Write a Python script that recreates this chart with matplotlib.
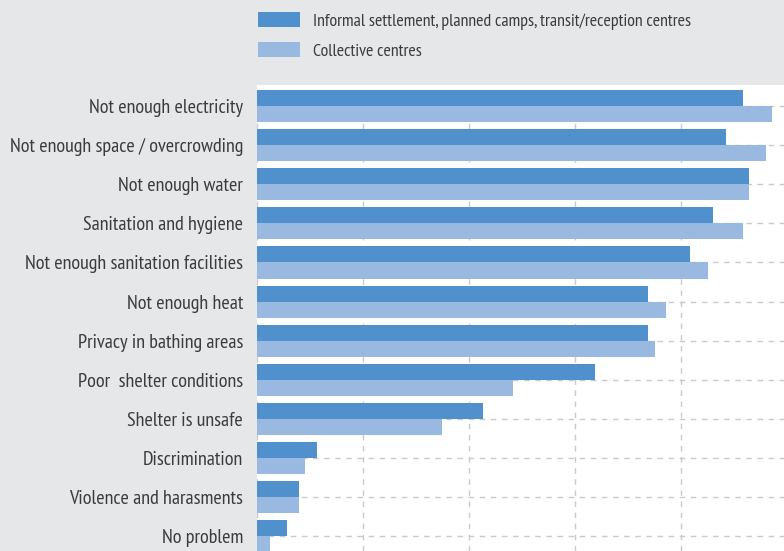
import matplotlib
matplotlib.use('Agg')
import matplotlib.pyplot as plt
import numpy as np

categories = ['Not enough electricity', 'Not enough space / overcrowding', 'Not enough water',
              'Sanitation and hygiene', 'Not enough sanitation facilities', 'Not enough heat',
              'Privacy in bathing areas', 'Poor  shelter conditions', 'Shelter is unsafe',
              'Discrimination', 'Violence and harasments', 'No problem']
informal = [45.8, 44.2, 46.4, 43.0, 40.8, 36.9, 36.9, 31.9, 21.3, 5.7, 4.0, 2.8]
collective = [48.6, 48.0, 46.4, 45.8, 42.5, 38.6, 37.5, 24.1, 17.4, 4.5, 4.0, 1.2]
series_names = ['Informal settlement, planned camps, transit/reception centres', 'Collective centres']

# condensed face close to the original; falls back if missing
plt.rcParams['font.family'] = ['PT Sans Narrow', 'Liberation Sans Narrow', 'DejaVu Sans']

dark = '#4f90cd'
light = '#9ab9e0'
bg = '#e6e7e8'
text_c = '#3c3c3c'

fig = plt.figure(figsize=(7.84, 5.51), dpi=100, facecolor=bg)
ax = fig.add_axes([257/784, 0, 1 - 257/784, 1 - 85/551])
ax.set_facecolor('white')

y = np.arange(len(categories))
h = 0.41
ax.barh(y - h/2, informal, height=h, color=dark, label=series_names[0], zorder=2)
ax.barh(y + h/2, collective, height=h, color=light, label=series_names[1], zorder=2)

ax.set_xlim(0, 49.7)
ax.set_ylim(len(categories) - 1 + 0.38, -0.54)
ax.set_xticks([0, 10, 20, 30, 40])
ax.set_yticks(y)
ax.set_yticklabels(categories, fontsize=14.5, color=text_c)
ax.tick_params(axis='y', length=0, pad=10)
ax.tick_params(axis='x', length=0, labelbottom=False)
ax.grid(True, color='#cacaca', linestyle=(0, (4, 4)), linewidth=1.0, zorder=0)
ax.set_axisbelow(True)
for s in ax.spines.values():
    s.set_visible(False)

fig.legend(loc='upper left', bbox_to_anchor=(258/784, 1 - 12/551), frameon=False,
           fontsize=12.9, handlelength=2.35, handleheight=0.92, labelspacing=0.7,
           handletextpad=0.72, borderpad=0, borderaxespad=0, labelcolor=text_c)

fig.savefig('out.png', dpi=100, facecolor=bg)
